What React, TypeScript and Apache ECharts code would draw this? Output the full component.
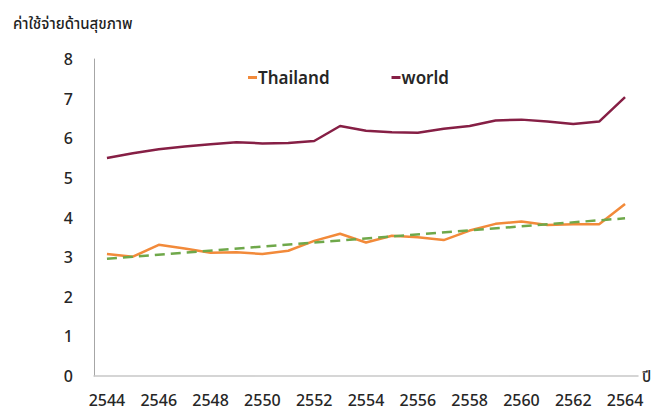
import React, { useEffect, useRef } from "react";
import * as echarts from "echarts";

const years = ["2544","2545","2546","2547","2548","2549","2550","2551","2552","2553","2554","2555","2556","2557","2558","2559","2560","2561","2562","2563","2564"];
const thailand = [3.08,3.01,3.31,3.22,3.11,3.12,3.08,3.16,3.41,3.59,3.37,3.54,3.50,3.43,3.67,3.84,3.90,3.81,3.83,3.83,4.34];
const world = [5.50,5.62,5.72,5.79,5.85,5.90,5.87,5.88,5.93,6.31,6.19,6.15,6.14,6.24,6.31,6.45,6.47,6.42,6.36,6.42,7.04];
// trend line endpoints (linear trend of Thailand)
const trend = [2.96,null,null,null,null,null,null,null,null,null,null,null,null,null,null,null,null,null,null,null,3.98];

const FONT = "'Noto Sans', 'Noto Sans Thai', 'Open Sans', sans-serif";

export default function App() {
  const ref = useRef<HTMLDivElement>(null);
  useEffect(() => {
    if (!ref.current) return;
    const chart = echarts.init(ref.current, null, { renderer: "svg" });
    chart.setOption({
      animation: false,
      textStyle: { fontFamily: FONT },
      title: {
        text: "ค่าใช้จ่ายด้านสุขภาพ",
        left: 8,
        top: 10,
        textStyle: { fontFamily: FONT, fontSize: 15, fontWeight: 500, color: "#1F1F1F" },
      },
      legend: {
        data: ["Thailand", "world"],
        left: 243,
        top: 64,
        itemWidth: 9,
        itemHeight: 3,
        itemGap: 62,
        icon: "rect",
        textStyle: { fontFamily: FONT, fontSize: 17, fontWeight: 600, color: "#262626", padding: [0, 0, 0, -4] },
      },
      grid: { left: 94, right: 20, top: 59, bottom: 36 },
      xAxis: {
        type: "category",
        data: years,
        boundaryGap: true,
        name: "ปี",
        nameLocation: "end",
        nameGap: 4,
        nameTextStyle: { fontFamily: FONT, fontSize: 15, fontWeight: 500, color: "#262626", verticalAlign: "middle" },
        axisLine: { lineStyle: { color: "#C8C8C8", width: 1.5 } },
        axisTick: { show: false },
        axisLabel: { interval: 1, fontSize: 16, fontWeight: 500, color: "#262626", margin: 16, fontFamily: FONT },
        splitLine: { show: false },
      },
      yAxis: {
        type: "value",
        min: 0,
        max: 8,
        interval: 1,
        axisLine: { show: true, lineStyle: { color: "#A6A6A6", width: 1 } },
        axisTick: { show: false },
        axisLabel: { fontSize: 16, fontWeight: 500, color: "#262626", margin: 21, fontFamily: FONT },
        splitLine: { show: false },
      },
      series: [
        {
          name: "Thailand",
          type: "line",
          data: thailand,
          symbol: "none",
          lineStyle: { color: "#F28A3A", width: 2.5 },
          itemStyle: { color: "#F28A3A" },
          z: 3,
        },
        {
          name: "world",
          type: "line",
          data: world,
          symbol: "none",
          lineStyle: { color: "#861F45", width: 2.5 },
          itemStyle: { color: "#861F45" },
          z: 3,
        },
        {
          name: "trend",
          type: "line",
          data: trend,
          connectNulls: true,
          symbol: "none",
          lineStyle: { color: "#6FA84A", width: 2.5, type: [10, 6] },
          itemStyle: { color: "#6FA84A" },
          z: 4,
        },
      ],
    });
    return () => chart.dispose();
  }, []);
  return <div ref={ref} style={{ width: 658, height: 412, position: "absolute", left: 0, top: 0 }} />;
}
